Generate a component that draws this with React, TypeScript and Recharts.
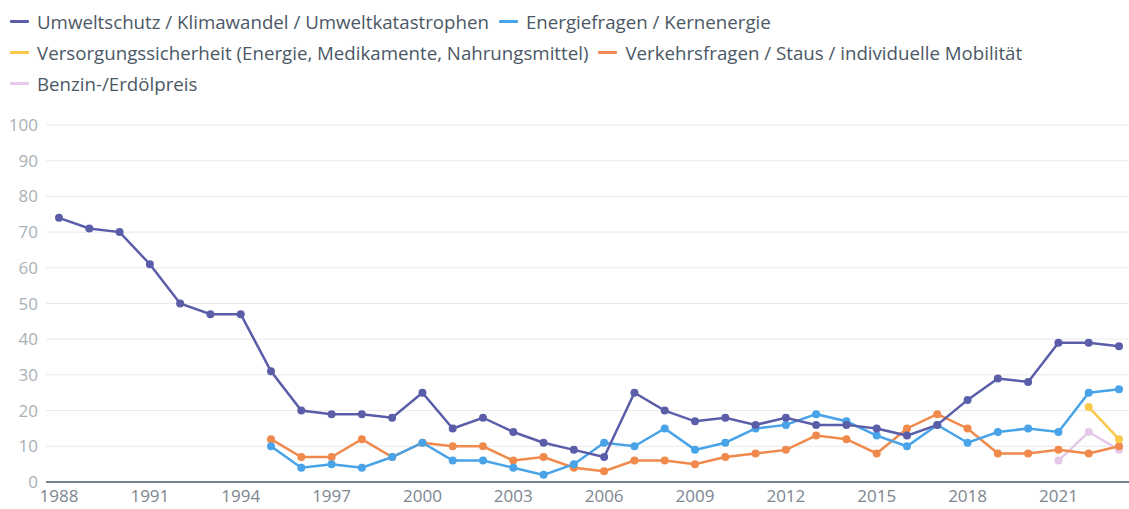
import React from 'react';
import { LineChart, Line, XAxis, YAxis, CartesianGrid } from 'recharts';

const years = [1988,1989,1990,1991,1992,1993,1994,1995,1996,1997,1998,1999,2000,2001,2002,2003,2004,2005,2006,2007,2008,2009,2010,2011,2012,2013,2014,2015,2016,2017,2018,2019,2020,2021,2022,2023];

const umwelt = [74,71,70,61,50,47,47,31,20,19,19,18,25,15,18,14,11,9,7,25,20,17,18,16,18,16,16,15,13,16,23,29,28,39,39,38];
const energie = [null,null,null,null,null,null,null,10,4,5,4,7,11,6,6,4,2,5,11,10,15,9,11,15,16,19,17,13,10,16,11,14,15,14,25,26];
const versorgung = [null,null,null,null,null,null,null,null,null,null,null,null,null,null,null,null,null,null,null,null,null,null,null,null,null,null,null,null,null,null,null,null,null,null,21,12];
const verkehr = [null,null,null,null,null,null,null,12,7,7,12,7,11,10,10,6,7,4,3,6,6,5,7,8,9,13,12,8,15,19,15,8,8,9,8,10];
const benzin = [null,null,null,null,null,null,null,null,null,null,null,null,null,null,null,null,null,null,null,null,null,null,null,null,null,null,null,null,null,null,null,null,null,6,14,9];

const yTicks = [0,10,20,30,40,50,60,70,80,90,100];
const xTicks = [1988,1991,1994,1997,2000,2003,2006,2009,2012,2015,2018,2021];

const seriesNames = {
  umwelt: 'Umweltschutz / Klimawandel / Umweltkatastrophen',
  energie: 'Energiefragen / Kernenergie',
  versorgung: 'Versorgungssicherheit (Energie, Medikamente, Nahrungsmittel)',
  verkehr: 'Verkehrsfragen / Staus / individuelle Mobilität',
  benzin: 'Benzin-/Erdölpreis',
};

const colors = {
  umwelt: '#5a5ea8',
  energie: '#48a3e8',
  versorgung: '#f9c74a',
  verkehr: '#ef8a4c',
  benzin: '#e6c8ea',
};

const data = years.map((y, i) => ({
  year: y,
  umwelt: umwelt[i],
  energie: energie[i],
  versorgung: versorgung[i],
  verkehr: verkehr[i],
  benzin: benzin[i],
}));

const legendRows = [['umwelt', 'energie'], ['versorgung', 'verkehr'], ['benzin']];

const FONT = '"Open Sans", sans-serif';

export default function App() {
  return (
    <div style={{ position: 'absolute', left: 0, top: 0, width: 1129, height: 509, fontFamily: FONT }}>
      <div style={{ position: 'absolute', left: 0, top: 6 }}>
        {legendRows.map((row, ri) => (
          <div key={ri} style={{ display: 'flex', height: 31, alignItems: 'center' }}>
            {row.map((k) => (
              <div key={k} style={{ display: 'flex', alignItems: 'center', marginRight: 0 }}>
                <div style={{ marginLeft: 10, width: 19, height: 3, background: colors[k], borderRadius: 1 }} />
                <span style={{ marginLeft: 8, fontSize: 18.7, color: '#4b5866', whiteSpace: 'nowrap' }}>{seriesNames[k]}</span>
              </div>
            ))}
          </div>
        ))}
      </div>
      <LineChart width={1129} height={509} data={data} margin={{ top: 125, right: 0, bottom: 0, left: 0 }}>
        <CartesianGrid vertical={false} stroke="#e9e9ec" strokeWidth={1} />
        <XAxis
          dataKey="year"
          type="number"
          domain={[1988, 2023]}
          ticks={xTicks}
          padding={{ left: 13, right: 10 }}
          height={27}
          tickSize={0}
          tickMargin={8}
          axisLine={{ stroke: '#4f5b66', strokeWidth: 1.5 }}
          tick={{ fill: '#7d868f', fontSize: 17, fontFamily: FONT }}
          interval={0}
          allowDecimals={false}
        />
        <YAxis
          type="number"
          domain={[0, 100]}
          ticks={yTicks}
          width={46}
          tickSize={0}
          tickMargin={8}
          axisLine={false}
          tick={{ fill: '#a9b0b7', fontSize: 17, fontFamily: FONT }}
          interval={0}
        />
        {['benzin', 'verkehr', 'versorgung', 'energie', 'umwelt'].map((k) => (
          <Line
            key={k}
            type="linear"
            dataKey={k}
            stroke={colors[k]}
            strokeWidth={2.5}
            dot={{ r: 4, fill: colors[k], stroke: colors[k], strokeWidth: 0 }}
            activeDot={false}
            isAnimationActive={false}
            connectNulls={false}
          />
        ))}
      </LineChart>
    </div>
  );
}
